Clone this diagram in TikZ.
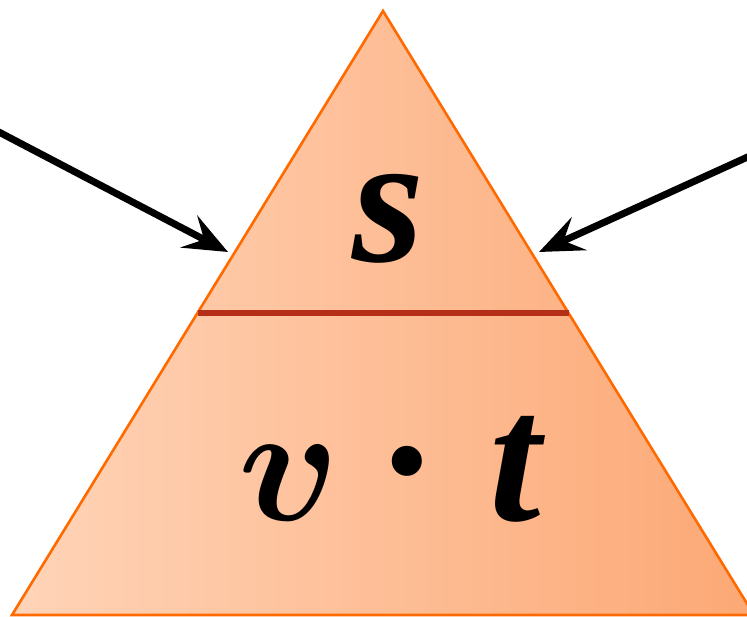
\documentclass[tikz,border=0pt]{standalone}
\usepackage{fix-cm}
\usepackage{bm}
\usepackage{fontspec}
\setmainfont{Liberation Serif}
\usetikzlibrary{arrows.meta}
\definecolor{peachlight}{HTML}{FFD4B8}
\definecolor{peachdark}{HTML}{FCA875}
\definecolor{edgeorange}{HTML}{FF6A00}
\definecolor{divred}{HTML}{B52E18}
\tikzset{
  triedge/.style={draw=edgeorange, line width=2.6pt, line join=miter},
  divider/.style={draw=divred, line width=6pt},
  bigarrow/.style={draw=black, line width=7pt,
    -{Stealth[length=44pt,width=36pt,inset=17pt]}},
  biglabel/.style={inner sep=0pt, font=\fontsize{185}{185}\selectfont\bfseries\itshape},
  mathlabel/.style={inner sep=0pt, font=\fontsize{168}{168}\selectfont}
}
\begin{document}
\begin{tikzpicture}[x=1pt,y=-1pt]
\useasboundingbox (0,0) rectangle (747,617);
\coordinate (apex) at (383,11);
\coordinate (bl) at (12,615);
\coordinate (br) at (754,615);
\coordinate (dl) at (197.5,313);
\coordinate (dr) at (568.5,313);
\shade[left color=peachlight, right color=peachdark] (apex) -- (bl) -- (br) -- cycle;
\draw[triedge] (apex) -- (bl) -- (br) -- cycle;
\draw[divider] (dl) -- (dr);
\node[biglabel, anchor=base] (s) at (388,262) {s};
\node[mathlabel, anchor=base] (v) at (289,520) {$\bm{v}$};
\node[biglabel, anchor=base] (dot) at (407,522) {\upshape ·};
\node[biglabel, anchor=base east] (t) at (541,520) {t};
\coordinate (lstart) at (-5,130);
\coordinate (ltip) at (228,252);
\coordinate (rstart) at (752,155);
\coordinate (rtip) at (539,252);
\draw[bigarrow] (lstart) -- (ltip);
\draw[bigarrow] (rstart) -- (rtip);
\end{tikzpicture}
\end{document}
